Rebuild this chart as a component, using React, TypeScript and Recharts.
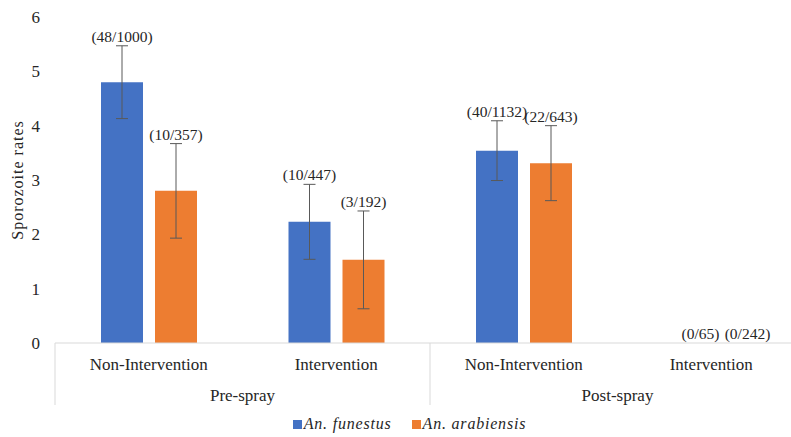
import { Bar, BarChart, ErrorBar, LabelList, Legend, XAxis, YAxis } from "recharts";

const categories = ["Non-Intervention", "Intervention", "Non-Intervention", "Intervention"];
const groups = ["Pre-spray", "Pre-spray", "Post-spray", "Post-spray"];
const funestus = [4.8, 2.23, 3.54, 0];
const funestusErr = [0.67, 0.69, 0.55, 0];
const funestusLabels = ["(48/1000)", "(10/447)", "(40/1132)", "(0/65)"];
const arabiensis = [2.8, 1.53, 3.31, 0];
const arabiensisErr = [0.87, 0.9, 0.69, 0];
const arabiensisLabels = ["(10/357)", "(3/192)", "(22/643)", "(0/242)"];
const yTicks = [0, 1, 2, 3, 4, 5, 6];

const data = categories.map((name, i) => ({
  name,
  group: groups[i],
  funestus: funestus[i],
  funestusErr: funestusErr[i],
  funestusLabel: funestusLabels[i],
  arabiensis: arabiensis[i],
  arabiensisErr: arabiensisErr[i],
  arabiensisLabel: arabiensisLabels[i],
}));

const BLUE = "#4472C4";
const ORANGE = "#ED7D31";
const INK = "#262626";
const FONT = "'Liberation Serif', 'Times New Roman', serif";

// layout: the plot runs a little past the right edge of the picture, as in the source
const CHART_W = 805;
const CHART_H = 437;
const MARGIN = { top: 17, right: 0, bottom: 0, left: 0 };
const Y_AXIS_W = 55;
const X_AXIS_H = 66;
const LEGEND_H = 28;
const PLOT_H = CHART_H - MARGIN.top - X_AXIS_H - LEGEND_H;
const PX_PER_UNIT = PLOT_H / 6;
const BAND = (CHART_W - Y_AXIS_W) / categories.length;

// zero-height bars still need their label, so give them a hairline height
const keepZero = (v: any) => (Number(v) === 0 ? 0.01 : 0);

function CategoryTick(props: any) {
  const { x, y, payload, index } = props;
  const startsGroup = index === 0 || groups[index] !== groups[index - 1];
  return (
    <g>
      <text x={x} y={y + 19} textAnchor="middle" fontSize={17} fontFamily={FONT} fill={INK}>
        {payload.value}
      </text>
      {startsGroup && (
        <>
          <line x1={x - BAND / 2} x2={x - BAND / 2} y1={y - 8} y2={y + 54} stroke="#d9d9d9" />
          <text x={x + BAND / 2} y={y + 50} textAnchor="middle" fontSize={17} fontFamily={FONT} fill={INK}>
            {groups[index]}
          </text>
        </>
      )}
    </g>
  );
}

function makeLabel(errs: number[], zeroDx: number) {
  return (props: any) => {
    const { x, y, width, height, index, value } = props;
    const h = Number(height) || 0;
    const barTop = Number(y) + Math.min(0, h);
    const top = barTop - errs[index] * PX_PER_UNIT;
    const dx = Math.abs(h) < 1 ? zeroDx : 0;
    return (
      <text x={Number(x) + Number(width) / 2 + dx} y={top - 4} textAnchor="middle" fontSize={15.5} fontFamily={FONT} fill={INK}>
        {value}
      </text>
    );
  };
}

function LegendContent() {
  const items = [
    { name: "An. funestus", color: BLUE },
    { name: "An. arabiensis", color: ORANGE },
  ];
  return (
    <div style={{ display: "flex", justifyContent: "center", gap: 20, paddingTop: 6, paddingLeft: 14 }}>
      {items.map((it) => (
        <span key={it.name} style={{ display: "flex", alignItems: "center" }}>
          <span style={{ width: 9, height: 9, background: it.color, display: "inline-block", marginRight: 2 }} />
          <span style={{ fontFamily: FONT, fontStyle: "italic", fontSize: 16, color: INK, letterSpacing: 0.8 }}>
            {it.name}
          </span>
        </span>
      ))}
    </div>
  );
}

export default function App() {
  return (
    <div style={{ position: "absolute", left: 0, top: 0, width: 791, height: 437, overflow: "hidden", background: "#fff" }}>
      <BarChart
        width={CHART_W}
        height={CHART_H}
        data={data}
        margin={MARGIN}
        barSize={42}
        barGap={12}
      >
        <XAxis
          dataKey="name"
          height={X_AXIS_H}
          interval={0}
          tickLine={false}
          axisLine={{ stroke: "#d9d9d9" }}
          tick={<CategoryTick />}
        />
        <YAxis
          width={Y_AXIS_W}
          domain={[0, 6]}
          ticks={yTicks}
          axisLine={false}
          tickLine={false}
          tickSize={6}
          tickMargin={9}
          tick={{ fontSize: 17, fontFamily: FONT, fill: INK }}
          label={{
            value: "Sporozoite rates",
            angle: -90,
            position: "insideLeft",
            offset: 17,
            style: { textAnchor: "middle", fontSize: 16, fontFamily: FONT, fill: INK, letterSpacing: 1 },
          }}
        />
        <Legend verticalAlign="bottom" height={LEGEND_H} content={<LegendContent />} />
        <Bar dataKey="funestus" name="An. funestus" fill={BLUE} minPointSize={keepZero} isAnimationActive={false}>
          <ErrorBar dataKey="funestusErr" width={6} stroke="#595959" strokeWidth={1} />
          <LabelList dataKey="funestusLabel" content={makeLabel(funestusErr, 16)} />
        </Bar>
        <Bar dataKey="arabiensis" name="An. arabiensis" fill={ORANGE} minPointSize={keepZero} isAnimationActive={false}>
          <ErrorBar dataKey="arabiensisErr" width={6} stroke="#595959" strokeWidth={1} />
          <LabelList dataKey="arabiensisLabel" content={makeLabel(arabiensisErr, 9)} />
        </Bar>
      </BarChart>
    </div>
  );
}
